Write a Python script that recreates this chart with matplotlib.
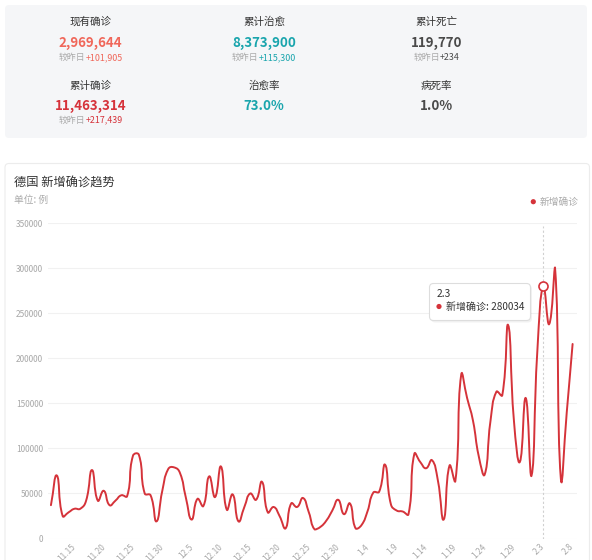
import numpy as np
import pandas as pd
import matplotlib
matplotlib.use('Agg')
import matplotlib.pyplot as plt
from matplotlib.path import Path
from matplotlib.patches import PathPatch, FancyBboxPatch, Circle
from matplotlib.transforms import IdentityTransform

plt.rcParams['font.family'] = ['Noto Sans CJK SC', 'DejaVu Sans']

W, H = 592, 560

# ---------------- data ----------------
dates = [f"{d.month}.{d.day}" for d in pd.date_range('2020-11-11', '2021-02-08')]
new_cases = [
    37000, 70000, 25000, 29000, 33000, 33000, 42000, 76000, 42000, 53000,
    37000, 42000, 48000, 47000, 92000, 93000, 50000, 48000, 19000, 53000,
    77000, 79000, 73000, 46000, 21000, 44000, 36000, 69000, 46000, 80000,
    32000, 49000, 19000, 35000, 50000, 43000, 63000, 29000, 35000, 25000,
    11000, 39000, 35000, 45000, 29000, 10000, 13000, 20000, 31000, 43000,
    27000, 39000, 11000, 15000, 30000, 51000, 52000, 82000, 38000, 31000,
    30000, 27000, 94000, 85000, 78000, 87000, 65000, 21000, 81000, 64000,
    182000, 156000, 131000, 91000, 71000, 131000, 163000, 159000, 237000, 130000,
    85000, 156000, 70000, 210000, 280034, 238000, 301000, 66000, 140000, 216000,
]
highlight_date = '2.3'
x_label_dates = ['11.15', '11.20', '11.25', '11.30', '12.5', '12.10', '12.15', '12.20',
                 '12.25', '12.30', '1.4', '1.9', '1.14', '1.19', '1.24', '1.29', '2.3', '2.8']
y_ticks = [0, 50000, 100000, 150000, 200000, 250000, 300000, 350000]

stat_labels = [['现有确诊', '累计治愈', '累计死亡'], ['累计确诊', '治愈率', '病死率']]
stat_values = [['2,969,644', '8,373,900', '119,770'], ['11,463,314', '73.0%', '1.0%']]
stat_deltas = [['+101,905', '+115,300', '+234'], ['+217,439', None, None]]
stat_colors = [['#f0675a', '#1aa5ad', '#4a4a4a'], ['#d6333b', '#1aa5ad', '#4a4a4a']]

title = '德国 新增确诊趋势'
unit_text = '单位: 例'
series_name = '新增确诊'
delta_prefix = '较昨日'

LINE = '#d5333a'

# ---------------- figure ----------------
fig = plt.figure(figsize=(W / 100, H / 100), dpi=100)
fig.patch.set_facecolor('white')


def fx(x):
    return x / W


def fy(y):
    return 1 - y / H


def pix_box(x0, y0, x1, y1, zorder=-1, **kw):
    p = FancyBboxPatch((x0, H - y1), x1 - x0, y1 - y0,
                       transform=IdentityTransform(), zorder=zorder, **kw)
    fig.patches.append(p)
    return p


# top stats panel
pix_box(5, 5, 587, 138, boxstyle='round,pad=0,rounding_size=4',
        facecolor='#f5f6f8', edgecolor='none')

col_x = [90.7, 264, 436.5]
row_y = [(21.5, 42.5, 57.5), (86, 106, 120)]
renderer = fig.canvas.get_renderer()

for r in range(2):
    ly, vy, dy = row_y[r]
    for c in range(3):
        cx = col_x[c]
        fig.text(fx(cx), fy(ly), stat_labels[r][c], ha='center', va='center',
                 fontsize=7.6, color='#333333')
        fig.text(fx(cx), fy(vy), stat_values[r][c], ha='center', va='center',
                 fontsize=9.6, fontweight='bold', color=stat_colors[r][c])
        if stat_deltas[r][c] is not None:
            t1 = fig.text(0, fy(dy), delta_prefix, ha='left', va='center',
                          fontsize=6.4, color='#aaaaaa')
            t2 = fig.text(0, fy(dy), stat_deltas[r][c], ha='left', va='center',
                          fontsize=6.4, color=stat_colors[r][c])
            w1 = t1.get_window_extent(renderer).width
            w2 = t2.get_window_extent(renderer).width
            start = cx - (w1 + w2) / 2
            t1.set_x(fx(start))
            t2.set_x(fx(start + w1))

# chart panel
pix_box(5, 163.5, 589.5, 575, boxstyle='round,pad=0,rounding_size=4',
        facecolor='white', edgecolor='#ececec', linewidth=0.8)

fig.text(fx(14), fy(183), title, ha='left', va='center', fontsize=8.8, color='#333333')
fig.text(fx(14), fy(199.5), unit_text, ha='left', va='center', fontsize=7, color='#aaaaaa')

# legend
fig.patches.append(Circle((533.3, H - 201.7), 2.6, transform=IdentityTransform(),
                          facecolor=LINE, edgecolor='none', zorder=2))
fig.text(fx(539.5), fy(201.7), series_name, ha='left', va='center', fontsize=7,
         color='#aaaaaa')

# axes
ax = fig.add_axes([fx(48), fy(538.5), (577 - 48) / W, (538.5 - 223.3) / H])
ax.set_zorder(1)
ax.set_facecolor('none')
n = len(new_cases)
xs = np.arange(n)
ys = np.array(new_cases, dtype=float)
ax.set_xlim(-0.5, n - 1 + 0.75)
ax.set_ylim(0, 350000)
for s in ax.spines.values():
    s.set_visible(False)
ax.set_yticks(y_ticks)
ax.set_yticklabels([str(v) for v in y_ticks])
ax.tick_params(axis='y', length=0, pad=3.4, labelsize=6, labelcolor='#a8a8a8')
ax.grid(axis='y', color='#f1f1f1', linewidth=0.8)
ax.set_axisbelow(True)

tick_idx = [dates.index(d) for d in x_label_dates]
ax.set_xticks(tick_idx)
ax.set_xticklabels(x_label_dates, rotation=45, ha='right', va='center',
                   rotation_mode='anchor')
ax.tick_params(axis='x', length=0, pad=5, labelsize=6, labelcolor='#a8a8a8')


def smooth_path(ax, xs, ys, smooth=0.5):
    pts = ax.transData.transform(np.column_stack([xs, ys]))
    m = len(pts)
    lo = pts.min(axis=0)
    hi = pts.max(axis=0)
    cin, cout = [], []
    for i in range(m):
        p = pts[i]
        prev = pts[i - 1] if i > 0 else p
        nxt = pts[i + 1] if i < m - 1 else p
        v = (nxt - prev) * smooth
        d0 = np.hypot(*(p - prev))
        d1 = np.hypot(*(p - nxt))
        ssum = d0 + d1
        if ssum > 0:
            d0 /= ssum
            d1 /= ssum
        cin.append(np.clip(p - v * d0, lo, hi))
        cout.append(np.clip(p + v * d1, lo, hi))
    verts = [pts[0]]
    codes = [Path.MOVETO]
    for i in range(1, m):
        verts += [cout[i - 1], cin[i], pts[i]]
        codes += [Path.CURVE4] * 3
    verts = ax.transData.inverted().transform(np.array(verts))
    return Path(verts, codes)


path = smooth_path(ax, xs, ys)
ax.add_patch(PathPatch(path, facecolor='none', edgecolor=LINE, linewidth=1.4,
                       capstyle='round', joinstyle='round', zorder=3))

hi_idx = dates.index(highlight_date)
ax.axvline(hi_idx, ymin=0, ymax=0.99, color='#d0d0d0', linewidth=0.8,
           linestyle=(0, (2, 2)), zorder=2)
ax.plot([hi_idx], [new_cases[hi_idx]], 'o', markersize=6.5, markerfacecolor='white',
        markeredgecolor=LINE, markeredgewidth=1.2, zorder=5)

# tooltip
pix_box(431, 285, 532, 322.5, zorder=9, boxstyle='round,pad=0,rounding_size=4',
        facecolor='#000000', alpha=0.05, edgecolor='none')
pix_box(429.5, 283.5, 530.5, 320.5, zorder=10, boxstyle='round,pad=0,rounding_size=4',
        facecolor='white', edgecolor='#dddddd', linewidth=0.8)
fig.text(fx(436.5), fy(294), highlight_date, ha='left', va='center', fontsize=7.4,
         color='#333333', zorder=11)
fig.patches.append(Circle((439, H - 306.5), 2.6, transform=IdentityTransform(),
                          facecolor=LINE, edgecolor='none', zorder=11))
fig.text(fx(445.5), fy(306.5), f"{series_name}: {new_cases[hi_idx]}", ha='left',
         va='center', fontsize=7.2, color='#333333', zorder=11)

fig.savefig('out.png', dpi=100)
